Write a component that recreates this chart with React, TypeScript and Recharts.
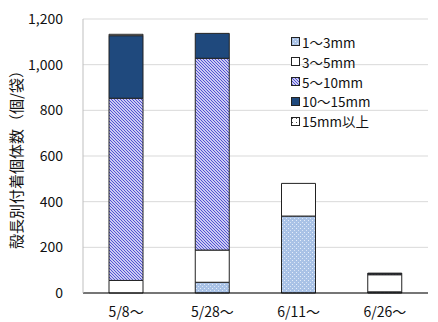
import React from "react";
import { BarChart, Bar, XAxis, YAxis, CartesianGrid, Legend, Label } from "recharts";

const categories = ["5/8～", "5/28～", "6/11～", "6/26～"];
const s1to3 = [0, 47, 337, 5];
const s3to5 = [55, 141, 143, 75];
const s5to10 = [798, 840, 0, 4];
const s10to15 = [274, 109, 0, 3];
const s15plus = [6, 0, 0, 0];
const yTicks = [0, 200, 400, 600, 800, 1000, 1200];

const seriesNames = ["1～3mm", "3～5mm", "5～10mm", "10～15mm", "15mm以上"];
const seriesFills = ["url(#p13)", "#ffffff", "url(#p510)", "#1f497d", "url(#p15)"];
const seriesValues = [s1to3, s3to5, s5to10, s10to15, s15plus];

const data = categories.map((c, i) => {
  const row: Record<string, string | number> = { name: c };
  seriesNames.forEach((n, k) => {
    row[n] = seriesValues[k][i];
  });
  return row;
});

const FONT = "'Noto Sans CJK JP', 'Noto Sans', sans-serif";

const Swatch = ({ fill }: { fill: string }) => (
  <svg width={9} height={9} style={{ marginRight: 2 }}>
    <rect x={0.5} y={0.5} width={8} height={8} fill={fill} stroke="#222" strokeWidth={1} />
  </svg>
);

const LegendContent = () => (
  <div style={{ fontFamily: FONT, fontSize: 13.5, color: "#111", textAlign: "left" }}>
    {seriesNames.map((n, k) => (
      <div key={n} style={{ display: "flex", alignItems: "center", height: 19.8 }}>
        <Swatch fill={seriesFills[k]} />
        <span>{n}</span>
      </div>
    ))}
  </div>
);

export default function App() {
  return (
    <div style={{ position: "absolute", left: 0, top: 0, background: "#fff" }}>
      <BarChart
        width={438}
        height={322}
        data={data}
        margin={{ top: 19, right: 10, bottom: 0, left: 0 }}
        barSize={34}
      >
        <defs>
          <pattern id="p13" patternUnits="userSpaceOnUse" width={4} height={4}>
            <rect width={4} height={4} fill="#a9c2e6" />
            <rect x={0} y={0} width={1} height={1} fill="#e6eefa" />
            <rect x={2} y={2} width={1} height={1} fill="#dbe6f6" />
          </pattern>
          <pattern id="p510" patternUnits="userSpaceOnUse" width={3} height={3}>
            <rect width={3} height={3} fill="#ffffff" />
            <path d="M-1,-1 L4,4 M-1,2 L1,4 M2,-1 L4,1" stroke="#4a4ad2" strokeWidth={1.1} />
          </pattern>
          <pattern id="p15" patternUnits="userSpaceOnUse" width={4} height={4}>
            <rect width={4} height={4} fill="#ffffff" />
            <rect x={1} y={1} width={1} height={1} fill="#555" />
          </pattern>
        </defs>
        <CartesianGrid vertical={false} stroke="#d9d9d9" />
        <XAxis
          dataKey="name"
          height={29}
          tickLine={false}
          axisLine={{ stroke: "#000" }}
          tick={{ fontFamily: FONT, fontSize: 14, fill: "#111" }}
          tickMargin={8}
        />
        <YAxis
          width={83}
          domain={[0, 1200]}
          ticks={yTicks}
          interval={0}
          tickFormatter={(v: number) => v.toLocaleString("en-US")}
          tickLine={false}
          tickSize={0}
          tickMargin={20}
          axisLine={{ stroke: "#bfbfbf" }}
          tick={{ fontFamily: FONT, fontSize: 14, fill: "#111" }}
        >
          <Label
            content={() => (
              <text
                x={15}
                y={156}
                transform="rotate(-90 15 156)"
                textAnchor="middle"
                dominantBaseline="central"
                fontFamily={FONT}
                fontSize={15}
                fill="#111"
              >
                殻長別付着個体数（個/袋）
              </text>
            )}
          />
        </YAxis>
        <Legend
          layout="vertical"
          verticalAlign="middle"
          align="center"
          content={LegendContent}
          wrapperStyle={{ position: "absolute", left: 291, top: 32, width: 110 }}
        />
        {seriesNames.map((n, k) => (
          <Bar
            key={n}
            dataKey={n}
            stackId="a"
            fill={seriesFills[k]}
            stroke="#222"
            strokeWidth={1}
            isAnimationActive={false}
          />
        ))}
      </BarChart>
    </div>
  );
}
